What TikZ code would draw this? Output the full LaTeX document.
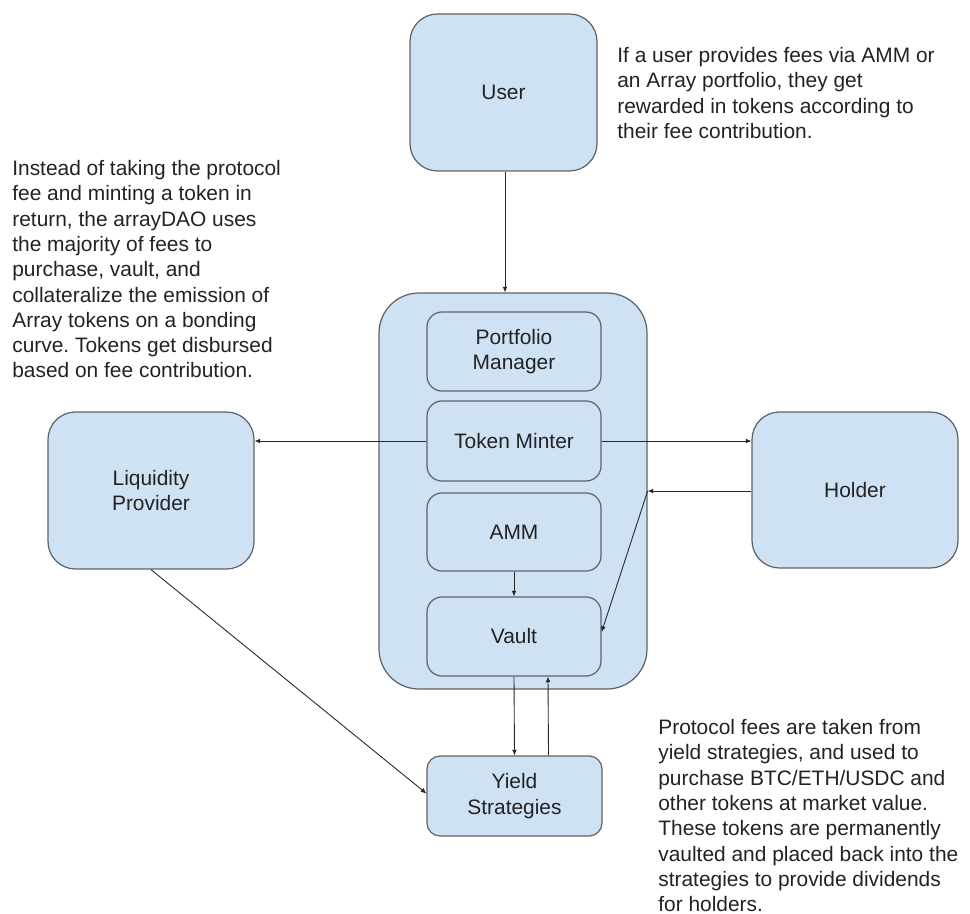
\documentclass[tikz,border=0pt]{standalone}
\usepackage{fontspec}
\setmainfont{Liberation Sans}
\usepackage{xcolor}
\usepackage{tikz}
\usetikzlibrary{shapes,arrows,positioning,calc,arrows.meta}
\definecolor{boxfill}{HTML}{CFE2F3}
\definecolor{boxline}{HTML}{5F6368}
\definecolor{txt}{HTML}{222222}
\frenchspacing
\begin{document}
\begin{tikzpicture}[
    box/.style={draw=boxline, fill=boxfill, line width=0.7pt, rounded corners=0.55cm, align=center, text=txt, font=\fontsize{11.9pt}{14.4pt}\selectfont},
    inbox/.style={box, rounded corners=0.3cm, minimum width=3.48cm, minimum height=1.58cm},
    note/.style={anchor=north west, inner sep=0pt, align=left, text=txt, font=\fontsize{11.9pt}{14.4pt}\selectfont},
    arr/.style={-{Latex[length=3.2pt,width=2.8pt]}, line width=0.5pt, draw=black!85}
]
    \useasboundingbox (0,0) rectangle (19.4,-18.28);

    % Boxes
    \node[box, minimum width=3.74cm, minimum height=3.14cm] (user) at (10.07,-1.85) {User};
    \node[box, rounded corners=0.8cm, minimum width=5.36cm, minimum height=7.92cm] (core) at (10.26,-9.82) {};
    \node[inbox] (pm) at (10.28,-7.03) {Portfolio\\Manager};
    \node[inbox, minimum height=1.6cm] (tm) at (10.28,-8.82) {Token Minter};
    \node[inbox, minimum height=1.56cm] (amm) at (10.28,-10.64) {AMM};
    \node[inbox] (vault) at (10.28,-12.73) {Vault};
    \node[inbox, minimum width=3.5cm, minimum height=1.6cm, rounded corners=0.26cm] (yield) at (10.29,-15.92) {Yield\\Strategies};
    \node[box, minimum width=4.12cm, minimum height=3.14cm] (lp) at (3.02,-9.81) {Liquidity\\Provider};
    \node[box, minimum width=4.12cm, minimum height=3.12cm] (holder) at (17.1,-9.8) {Holder};

    % Notes
    \node[note] (n1) at (12.34,-0.94) {If a user provides fees via AMM or\\an Array portfolio, they get\\rewarded in tokens according to\\their fee contribution.};
    \node[note] (n2) at (0.24,-3.2) {Instead of taking the protocol\\fee and minting a token in\\return, the arrayDAO uses\\the majority of fees to\\purchase, vault, and\\collateralize the emission of\\Array tokens on a bonding\\curve. Tokens get disbursed\\based on fee contribution.};
    \node[note] (n3) at (13.16,-14.38) {Protocol fees are taken from\\yield strategies, and used to\\purchase BTC/ETH/USDC and\\other tokens at market value.\\These tokens are permanently\\vaulted and placed back into the\\strategies to provide dividends\\for holders.};

    % Flows
    \draw[arr] ([xshift=0.03cm]user.south) -- ([xshift=0.03cm]user.south |- core.north);
    \draw[arr] (tm.west) -- (tm.west -| lp.east);
    \draw[arr] (tm.east) -- (tm.east -| holder.west);
    \coordinate (hin) at ($(holder.west -| core.east)+(0,-0.02)$);
    \draw[arr] ([yshift=-0.02cm]holder.west) -- (hin);
    \draw[arr] (hin) -- ([yshift=0.09cm]vault.east);
    \draw[arr] (amm.south) -- (vault.north);
    \draw[arr] (vault.south) -- (yield.north);
    \draw[arr] ([xshift=0.68cm]yield.north) -- ([xshift=0.68cm]vault.south);
    \draw[arr] (lp.south) -- ([yshift=0.05cm]yield.west);
\end{tikzpicture}
\end{document}
